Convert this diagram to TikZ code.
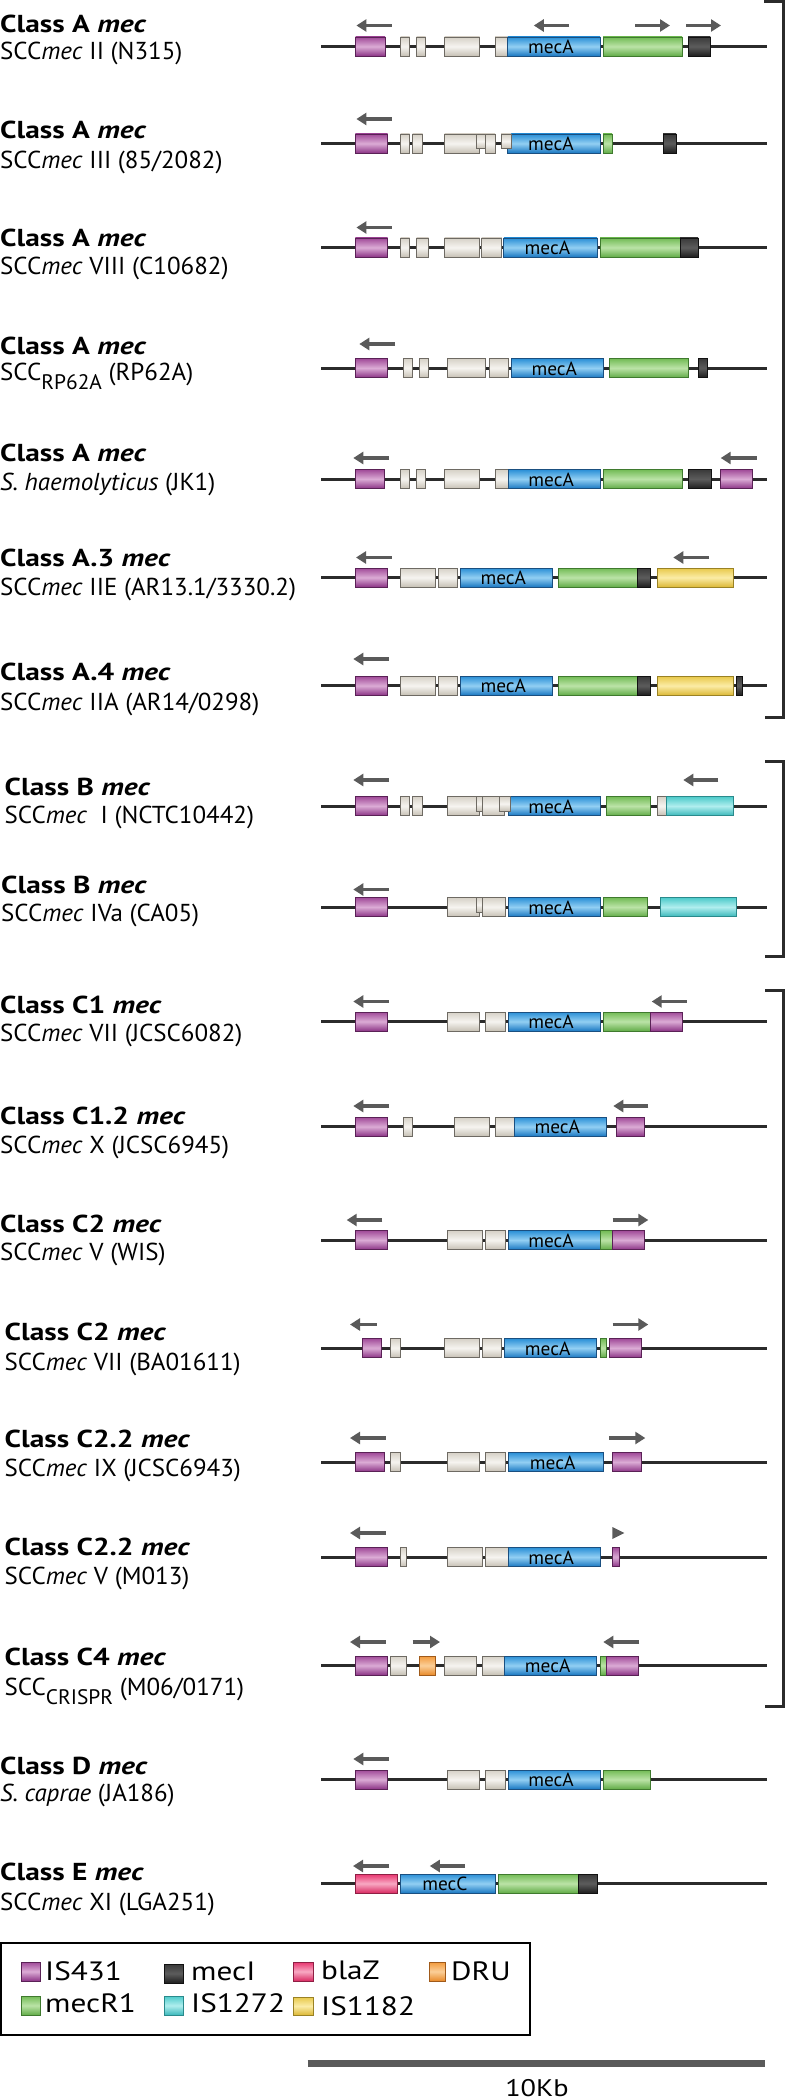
\documentclass[tikz,border=0pt]{standalone}
\usepackage{fontspec}
\setmainfont{PT Sans}
\newfontfamily\labregfont{PT Sans}[FakeStretch=1.02]
\newfontfamily\labboldfont{PT Sans}[FakeStretch=1.2]
\newfontfamily\legfont{PT Sans}[FakeStretch=1.18]
\usetikzlibrary{arrows.meta}
\definecolor{isT}{HTML}{A04A98}\definecolor{isM}{HTML}{DBABD5}\definecolor{isB}{HTML}{8C3486}\definecolor{isD}{HTML}{5A2156}
\definecolor{maT}{HTML}{2A8FD6}\definecolor{maM}{HTML}{92CFF3}\definecolor{maB}{HTML}{1A78C2}\definecolor{maD}{HTML}{1A4F80}
\definecolor{grT}{HTML}{D6D1C7}\definecolor{grM}{HTML}{F6F4F0}\definecolor{grB}{HTML}{C6C0B4}\definecolor{grD}{HTML}{6E6A63}
\definecolor{gnT}{HTML}{72BB55}\definecolor{gnM}{HTML}{BBE3A7}\definecolor{gnB}{HTML}{62AC48}\definecolor{gnD}{HTML}{3F7A2E}
\definecolor{bkT}{HTML}{3A3A3A}\definecolor{bkM}{HTML}{5C5C5C}\definecolor{bkB}{HTML}{1E1E1E}\definecolor{bkD}{HTML}{111111}
\definecolor{cyT}{HTML}{4CCACA}\definecolor{cyM}{HTML}{B0EEEE}\definecolor{cyB}{HTML}{3BB8BB}\definecolor{cyD}{HTML}{2A8A8C}
\definecolor{ywT}{HTML}{E8C84A}\definecolor{ywM}{HTML}{FBECA6}\definecolor{ywB}{HTML}{DCB836}\definecolor{ywD}{HTML}{9A8224}
\definecolor{pkT}{HTML}{E8356F}\definecolor{pkM}{HTML}{F8A9C3}\definecolor{pkB}{HTML}{D92A62}\definecolor{pkD}{HTML}{8F1F44}
\definecolor{orT}{HTML}{F29A3C}\definecolor{orM}{HTML}{FBCF98}\definecolor{orB}{HTML}{E88A2A}\definecolor{orD}{HTML}{A05A1A}
\definecolor{arrowgray}{HTML}{5A5A5A}
\definecolor{dnacol}{HTML}{2B2B2B}
\tikzset{
  gbase/.style={line width=0.7pt},
  isq/.style={gbase,draw=isD,top color=isT,bottom color=isB,middle color=isM},
  mca/.style={gbase,draw=maD,top color=maT,bottom color=maB,middle color=maM},
  gry/.style={gbase,draw=grD,top color=grT,bottom color=grB,middle color=grM},
  grn/.style={gbase,draw=gnD,top color=gnT,bottom color=gnB,middle color=gnM},
  blk/.style={gbase,draw=bkD,top color=bkT,bottom color=bkB,middle color=bkM},
  cyn/.style={gbase,draw=cyD,top color=cyT,bottom color=cyB,middle color=cyM},
  ylw/.style={gbase,draw=ywD,top color=ywT,bottom color=ywB,middle color=ywM},
  pnk/.style={gbase,draw=pkD,top color=pkT,bottom color=pkB,middle color=pkM},
  org/.style={gbase,draw=orD,top color=orT,bottom color=orB,middle color=orM},
  dirarrow/.style={draw=arrowgray,line width=3.5pt,-{Triangle[length=10pt,width=12pt]}},
  dnaline/.style={draw=dnacol,line width=3pt},
  bracketline/.style={draw=dnacol,line width=3pt},
  labbold/.style={inner sep=0pt,font=\labboldfont\fontsize{24.5}{28}\selectfont\bfseries},
  labreg/.style={inner sep=0pt,font=\labregfont\fontsize{24.5}{28}\selectfont},
  genelab/.style={inner sep=0pt,font=\labregfont\fontsize{19}{20}\selectfont,text=black},
  legtext/.style={inner sep=0pt,font=\legfont\fontsize{26.5}{28}\selectfont,anchor=base west},
}
\newcommand{\gn}[4]{\shadedraw[#1] (#2,#4-9.5) rectangle (#3,#4+9.5);}
\newcommand{\gs}[4]{\shadedraw[#1] (#2,#4-9.5) rectangle (#3,#4+5);}
\newcommand{\aL}[3]{\draw[dirarrow] (#2,#3) -- (#1,#3);}
\newcommand{\aR}[3]{\draw[dirarrow] (#1,#3) -- (#2,#3);}
\newcommand{\dna}[1]{\draw[dnaline] (321,#1) -- (767,#1);}
\newcommand{\lab}[6]{\node[labbold,anchor=base west] (#1a) at (#2,#3) {#4};
  \node[labreg,anchor=base west] (#1b) at (#2,#5) {#6};}
\newcommand{\gname}[5]{\node[genelab,anchor=base] (#1) at ({(#2+#3)/2-3},#4+7) {#5};}
\newcommand{\subl}[1]{\raisebox{-9pt}{\fontsize{21}{21}\selectfont #1}}
\begin{document}
\begin{tikzpicture}[x=1pt,y=-1pt]
\useasboundingbox (0,0) rectangle (786,2100);
% brackets
\draw[bracketline] (764,2) -- (783,2) -- (783,717.3) -- (765,717.3);
\draw[bracketline] (765,761) -- (783,761) -- (783,956.7) -- (765,956.7);
\draw[bracketline] (765,990.7) -- (783,990.7) -- (783,1706.7) -- (765,1706.7);
% R1
\dna{46.5}
\gn{isq}{355.5}{385}{46.5}\gn{gry}{400.5}{409.5}{46.5}\gn{gry}{416.5}{425.5}{46.5}
\gn{gry}{444.6}{479.7}{46.5}\gn{gry}{495.2}{507.8}{46.5}\gn{mca}{507.8}{600}{46.5}
\gn{grn}{603}{682.2}{46.5}\gn{blk}{688.2}{710.3}{46.5}
\gname{m1}{507.8}{600}{46.5}{mecA}
\aL{356.4}{391.5}{25.5}\aL{533.8}{569}{25.5}\aR{635}{670}{25.5}\aR{686}{721}{25.5}
\lab{r1}{0}{32.3}{Class A \textit{mec}}{60}{SCC\textit{mec} II (N315)}
% R2
\dna{143.5}
\gn{isq}{355.4}{387.5}{143.5}\gn{gry}{400.5}{409.5}{143.5}\gn{gry}{412.5}{422.6}{143.5}
\gn{gry}{444.6}{479.7}{143.5}\gs{gry}{476}{486}{143.5}\gn{gry}{485}{495}{143.5}
\gn{mca}{507.8}{600}{143.5}\gs{gry}{501}{511}{143.5}
\gn{grn}{603}{612}{143.5}\gn{blk}{663.2}{676.2}{143.5}
\gname{m2}{507.8}{600}{143.5}{mecA}
\aL{356.4}{391.5}{119}
\lab{r2}{0}{138.3}{Class A \textit{mec}}{168.3}{SCC\textit{mec} III (85/2082)}
% R3
\dna{247.5}
\gn{isq}{355.4}{387.5}{247.5}\gn{gry}{400.5}{409.5}{247.5}\gn{gry}{416.5}{428.6}{247.5}
\gn{gry}{444.6}{479.7}{247.5}\gn{gry}{481.7}{501.8}{247.5}\gn{mca}{503.8}{597}{247.5}
\gn{grn}{600}{680.2}{247.5}\gn{blk}{680.2}{698.2}{247.5}
\gname{m3}{503.8}{597}{247.5}{mecA}
\aL{356.4}{391.5}{227.5}
\lab{r3}{0}{246.7}{Class A \textit{mec}}{275}{SCC\textit{mec} VIII (C10682)}
% R4
\dna{368}
\gn{isq}{355.7}{387.7}{368}\gn{gry}{403.3}{412.7}{368}\gn{gry}{419.3}{428.7}{368}
\gn{gry}{447.7}{485.7}{368}\gn{gry}{489}{508.3}{368}\gn{mca}{511.3}{603.3}{368}
\gn{grn}{609.3}{688.3}{368}\gn{blk}{698.3}{707.3}{368}
\gname{m4}{511.3}{603.3}{368}{mecA}
\aL{359.3}{395}{344}
\lab{r4}{0}{354}{Class A \textit{mec}}{380}{SCC\subl{RP62A} (RP62A)}
% R5
\dna{479}
\gn{isq}{355.7}{384.3}{479}\gn{gry}{400.3}{409.3}{479}\gn{gry}{416}{425.7}{479}
\gn{gry}{444.3}{479.7}{479}\gn{gry}{495.7}{508.3}{479}\gn{mca}{508.3}{600}{479}
\gn{grn}{603}{682.7}{479}\gn{blk}{688.3}{711}{479}\gn{isq}{720.3}{752.3}{479}
\gname{m5}{508.3}{600}{479}{mecA}
\aL{353.3}{389}{458}\aL{720.7}{756.7}{458}
\lab{r5}{0}{461.7}{Class A \textit{mec}}{490}{\textit{S. haemolyticus} (JK1)}
% R6
\dna{577.5}
\gn{isq}{355.7}{387.7}{577.5}\gn{gry}{400.3}{435}{577.5}\gn{gry}{438.3}{457.3}{577.5}
\gn{mca}{460.3}{552.3}{577.5}\gn{grn}{558.3}{637.7}{577.5}\gn{blk}{637.7}{650.7}{577.5}
\gn{ylw}{657}{733.3}{577.5}
\gname{m6}{460.3}{552.3}{577.5}{mecA}
\aL{356}{391.7}{557.5}\aL{673.3}{709}{557.5}
\lab{r6}{0}{566.7}{Class A.3 \textit{mec}}{595}{SCC\textit{mec} IIE (AR13.1/3330.2)}
% R7
\dna{685.7}
\gn{isq}{355.7}{387.7}{685.7}\gn{gry}{400.3}{435}{685.7}\gn{gry}{438.3}{457.3}{685.7}
\gn{mca}{460.3}{552.3}{685.7}\gn{grn}{558.3}{637.7}{685.7}\gn{blk}{637.7}{650.7}{685.7}
\gn{ylw}{657}{733.3}{685.7}\gn{blk}{736}{742.7}{685.7}
\gname{m7}{460.3}{552.3}{685.7}{mecA}
\aL{353.3}{389}{659}
\lab{r7}{0}{680}{Class A.4 \textit{mec}}{710}{SCC\textit{mec} IIA (AR14/0298)}
% R8
\dna{806}
\gn{isq}{355.7}{387.7}{806}\gn{gry}{400}{409.3}{806}\gn{gry}{412.7}{422.3}{806}
\gn{gry}{447.3}{479.3}{806}\gs{gry}{476.7}{486}{806}\gn{gry}{482.7}{504}{806}
\gn{mca}{508}{600}{806}\gs{gry}{499}{510.7}{806}
\gn{grn}{606.3}{650.7}{806}\gn{gry}{657}{666.7}{806}\gn{cyn}{666.7}{733.3}{806}
\gname{m8}{508}{600}{806}{mecA}
\aL{353.3}{389}{780}\aL{683.3}{718.3}{780}
\lab{r8}{4.5}{795}{Class B \textit{mec}}{823.3}{SCC\textit{mec}\ \ I (NCTC10442)}
% R9
\dna{907}
\gn{isq}{355.7}{387.7}{907}
\gn{gry}{447.3}{479.3}{907}\gs{gry}{476.7}{489.3}{907}\gn{gry}{482}{505}{907}
\gn{mca}{508}{600}{907}\gn{grn}{603}{647.7}{907}\gn{cyn}{660.3}{736.7}{907}
\gname{m9}{508}{600}{907}{mecA}
\aL{353.3}{389}{889.5}
\lab{r9}{1}{893.3}{Class B \textit{mec}}{921.7}{SCC\textit{mec} IVa (CA05)}
% R10
\dna{1021.5}
\gn{isq}{355.7}{387.7}{1021.5}\gn{gry}{447.3}{479.3}{1021.5}\gn{gry}{485.7}{505}{1021.5}
\gn{mca}{508}{600}{1021.5}\gn{grn}{603}{650.7}{1021.5}\gn{isq}{650.7}{682.7}{1021.5}
\gname{m10}{508}{600}{1021.5}{mecA}
\aL{353.3}{389}{1001.5}\aL{651.7}{686.7}{1001.5}
\lab{r10}{0}{1013.3}{Class C1 \textit{mec}}{1041.7}{SCC\textit{mec} VII (JCSC6082)}
% R11
\dna{1126.7}
\gn{isq}{355.7}{387.7}{1126.7}\gn{gry}{403.3}{412.7}{1126.7}\gn{gry}{454}{489}{1126.7}
\gn{gry}{495.3}{514.3}{1126.7}\gn{mca}{514.3}{606.3}{1126.7}\gn{isq}{616}{644.3}{1126.7}
\gname{m11}{514.3}{606.3}{1126.7}{mecA}
\aL{353.3}{389}{1106}\aL{613.3}{648.3}{1106}
\lab{r11}{0}{1124}{Class C1.2 \textit{mec}}{1153.3}{SCC\textit{mec} X (JCSC6945)}
% R12
\dna{1240}
\gn{isq}{355.7}{387.7}{1240}\gn{gry}{447.7}{482.7}{1240}\gn{gry}{485.7}{505}{1240}
\gn{mca}{508}{600}{1240}\gn{grn}{600}{612.3}{1240}\gn{isq}{612.3}{644.3}{1240}
\gname{m12}{508}{600}{1240}{mecA}
\aL{346.7}{382.3}{1220}\aR{612.7}{648.3}{1220}
\lab{r12}{0}{1232.3}{Class C2 \textit{mec}}{1260}{SCC\textit{mec} V (WIS)}
% R13
\dna{1348}
\gn{isq}{362.3}{381.7}{1348}\gn{gry}{390.7}{400.3}{1348}\gn{gry}{444.3}{479.7}{1348}
\gn{gry}{482.3}{501.7}{1348}\gn{mca}{504.7}{596.7}{1348}\gn{grn}{600}{606.7}{1348}
\gn{isq}{609.3}{641.3}{1348}
\gname{m13}{504.7}{596.7}{1348}{mecA}
\aL{350}{376.7}{1324.5}\aR{612.7}{648.3}{1324.5}
\lab{r13}{4.5}{1340.7}{Class C2 \textit{mec}}{1370}{SCC\textit{mec} VII (BA01611)}
% R14
\dna{1462}
\gn{isq}{355.7}{384.3}{1462}\gn{gry}{390.7}{400.3}{1462}\gn{gry}{447.7}{479.7}{1462}
\gn{gry}{485.7}{505}{1462}\gn{mca}{508}{603.3}{1462}\gn{isq}{612.7}{641.3}{1462}
\gname{m14}{508}{603.3}{1462}{mecA}
\aL{350}{385.7}{1438}\aR{609.3}{645.3}{1438}
\lab{r14}{4.5}{1447.3}{Class C2.2 \textit{mec}}{1476.7}{SCC\textit{mec} IX (JCSC6943)}
% R15
\dna{1557}
\gn{isq}{355.7}{387.7}{1557}\gn{gry}{400}{406.7}{1557}\gn{gry}{447.7}{482.7}{1557}
\gn{gry}{485.7}{508.3}{1557}\gn{mca}{508.3}{600}{1557}\gn{isq}{612.3}{619}{1557}
\gname{m15}{508.3}{600}{1557}{mecA}
\aL{350}{385.7}{1533}
\fill[arrowgray] (612.3,1527) -- (624.3,1533) -- (612.3,1539) -- cycle;
\lab{r15}{4.5}{1555.7}{Class C2.2 \textit{mec}}{1584.5}{SCC\textit{mec} V (M013)}
% R16
\dna{1665.5}
\gn{isq}{355.7}{387.7}{1665.5}\gn{gry}{390.7}{406.7}{1665.5}\gn{org}{419.3}{435.3}{1665.5}
\gn{gry}{444.3}{476.7}{1665.5}\gn{gry}{482.7}{504.7}{1665.5}\gn{mca}{504.7}{596.7}{1665.5}
\gn{grn}{600}{606}{1665.5}\gn{isq}{606}{638}{1665.5}
\gname{m16}{504.7}{596.7}{1665.5}{mecA}
\aL{350}{385.7}{1642}\aR{412.7}{440}{1642}\aL{603.3}{639.3}{1642}
\lab{r16}{4.5}{1665.7}{Class C4 \textit{mec}}{1695}{SCC\subl{CRISPR} (M06/0171)}
% R17
\dna{1779.5}
\gn{isq}{355.7}{387.7}{1779.5}\gn{gry}{447.7}{479.7}{1779.5}\gn{gry}{485.7}{505}{1779.5}
\gn{mca}{508}{600}{1779.5}\gn{grn}{603}{650.7}{1779.5}
\gname{m17}{508}{600}{1779.5}{mecA}
\aL{353.3}{389}{1759}
\lab{r17}{0}{1774}{Class D \textit{mec}}{1801.7}{\textit{S. caprae} (JA186)}
% R18
\dna{1883.5}
\gn{pnk}{355.6}{397.2}{1883.5}\gn{mca}{400.2}{495.5}{1883.5}
\gn{grn}{498}{578.2}{1883.5}\gn{blk}{578.2}{597.3}{1883.5}
\gname{m18}{400.2}{495.5}{1883.5}{mecC}
\aL{353}{389}{1866}\aL{429.8}{465}{1866}
\lab{r18}{0}{1880.7}{Class E \textit{mec}}{1910}{SCC\textit{mec} XI (LGA251)}
% legend
\draw[line width=2pt,draw=black] (1,1943.3) rectangle (530,2035);
\shadedraw[isq] (21,1962) rectangle (40.7,1981);
\node[legtext] (lg1) at (45,1980) {IS431};
\shadedraw[blk] (164,1964) rectangle (183.3,1983);
\node[legtext] (lg2) at (191,1980) {mecI};
\shadedraw[pnk] (293.3,1962) rectangle (313.3,1981);
\node[legtext] (lg3) at (321,1979) {blaZ};
\shadedraw[org] (429,1962) rectangle (445,1981);
\node[legtext] (lg4) at (451,1980) {DRU};
\shadedraw[grn] (21,1996) rectangle (40.7,2015);
\node[legtext] (lg5) at (45,2012) {mecR1};
\shadedraw[cyn] (164,1996) rectangle (183.3,2015);
\node[legtext] (lg6) at (191,2012) {IS1272};
\shadedraw[ylw] (293.3,1997) rectangle (313.3,2015);
\node[legtext] (lg7) at (321,2015.5) {IS1182};
% scale bar
\draw[line width=6.5pt,draw=arrowgray] (307.5,2063.3) -- (765,2063.3);
\node[inner sep=0pt,anchor=base,font=\legfont\fontsize{24}{26}\selectfont] (kb) at (537,2096.7) {10Kb};
\end{tikzpicture}
\end{document}
